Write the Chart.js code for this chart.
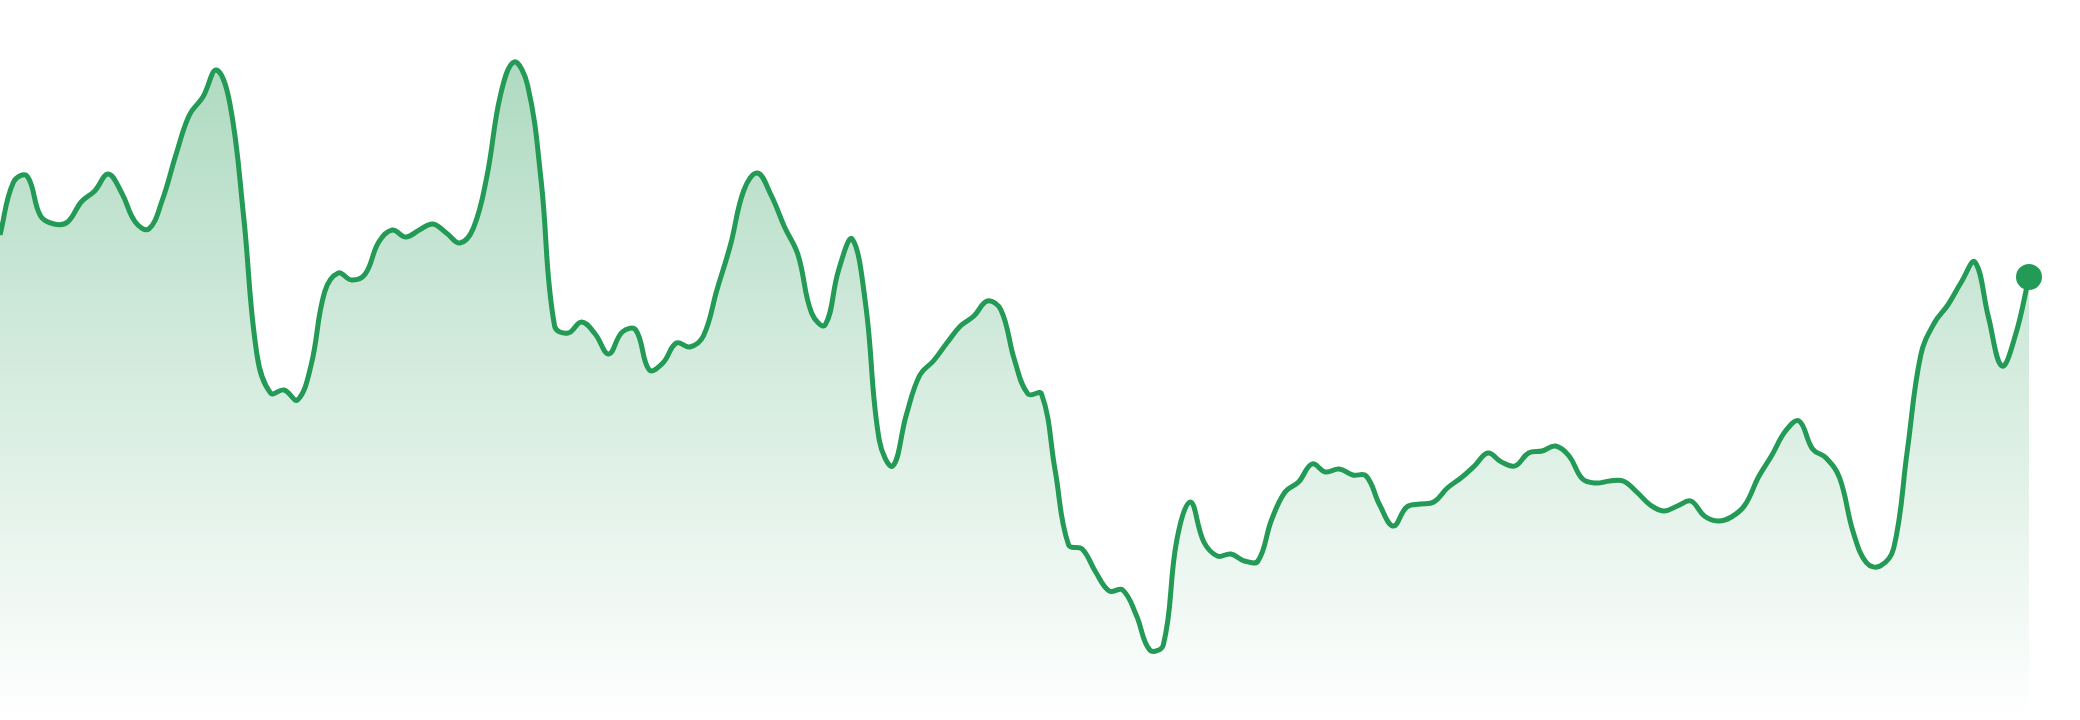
<!DOCTYPE html>
<html>
<head>
<meta charset="utf-8">
<script src="https://cdn.jsdelivr.net/npm/chart.js@4.4.1/dist/chart.umd.min.js"></script>
<style>
  html, body { margin: 0; padding: 0; background: #fff; }
  #wrap { width: 2080px; height: 720px; position: relative; }
</style>
</head>
<body>
<div id="wrap"><canvas id="priceChart"></canvas></div>
<script>
// price series (one value per session)
const prices = [
  485, 538, 544, 504, 496, 498, 518, 529, 546, 527,
  498, 491, 520, 565, 605, 623, 650, 616, 505, 365,
  327, 330, 320, 355, 428, 447, 440, 446, 478, 490,
  483, 490, 496, 487, 477, 492, 544, 625, 658, 635,
  540, 394, 387, 398, 386, 366, 388, 390, 350, 357,
  377, 373, 384, 430, 475, 530, 547, 525, 493, 465,
  407, 395, 450, 481, 415, 280, 254, 305, 345, 359,
  377, 394, 404, 419, 410, 360, 326, 326, 250, 175,
  171, 148, 129, 130, 105, 70, 75, 180, 218, 178,
  164, 166, 159, 159, 200, 228, 238, 256, 248, 251,
  245, 244, 215, 194, 213, 216, 218, 232, 242, 254,
  267, 258, 254, 267, 269, 274, 264, 241, 237, 239,
  239, 228, 215, 209, 214, 219, 204, 199, 203, 215,
  243, 265, 289, 299, 271, 262, 242, 188, 157, 154,
  172, 269, 365, 397, 415, 438, 458, 403, 354, 385,
  443
];
const labels = prices.map((_, i) => 'D' + (i + 1));

const yMin = 0;
const yMax = 720;
const green = '#239a55';

const ctx = document.getElementById('priceChart').getContext('2d');

window.priceChart = new Chart(ctx, {
  type: 'line',
  data: {
    labels: labels,
    datasets: [{
      data: prices,
      borderColor: green,
      borderWidth: 5,
      tension: 0.4,
      fill: 'start',
      clip: false,
      backgroundColor: (c) => {
        const area = c.chart.chartArea;
        if (!area) return 'rgba(35,154,85,0.2)';
        const g = c.chart.ctx.createLinearGradient(0, area.top, 0, area.bottom);
        g.addColorStop(0, 'rgba(35,154,85,0.4)');
        g.addColorStop(0.5, 'rgba(35,154,85,0.2)');
        g.addColorStop(1, 'rgba(35,154,85,0)');
        return g;
      },
      pointRadius: (c) => c.dataIndex === prices.length - 1 ? 12 : 0,
      pointHoverRadius: 0,
      pointBackgroundColor: green,
      pointBorderColor: green,
      pointBorderWidth: 2
    }]
  },
  options: {
    responsive: true,
    maintainAspectRatio: false,
    animation: false,
    layout: { autoPadding: false, padding: { left: 0, right: 51, top: 0, bottom: 0 } },
    scales: {
      x: { display: false, offset: false },
      y: { display: false, min: yMin, max: yMax }
    },
    plugins: {
      legend: { display: false },
      tooltip: { enabled: false }
    }
  }
});
</script>
</body>
</html>
